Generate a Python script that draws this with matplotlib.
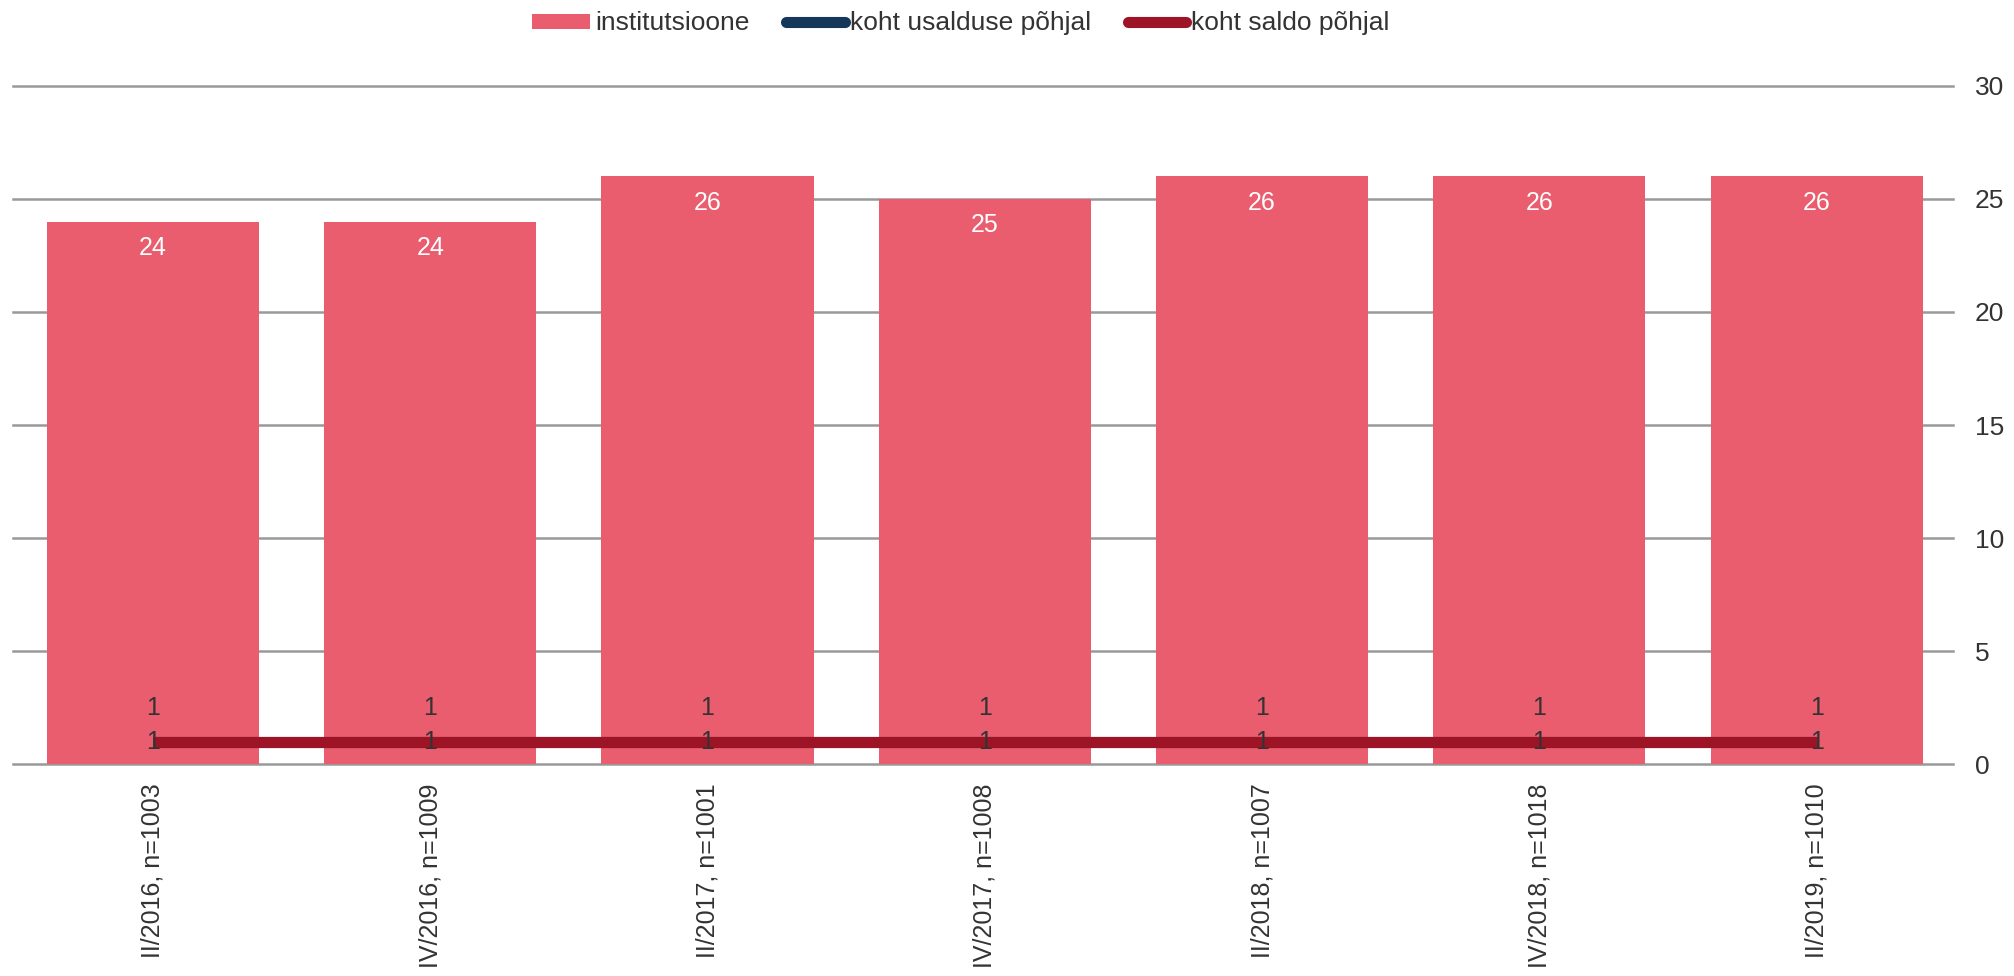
import matplotlib
matplotlib.use("Agg")
import matplotlib.pyplot as plt
from matplotlib.lines import Line2D
from matplotlib.patches import Patch
import numpy as np

plt.rcParams['font.family'] = ['Liberation Sans', 'DejaVu Sans']

categories = ["II/2016, n=1003", "IV/2016, n=1009", "II/2017, n=1001", "IV/2017, n=1008",
              "II/2018, n=1007", "IV/2018, n=1018", "II/2019, n=1010"]
institutsioone = [24, 24, 26, 25, 26, 26, 26]
koht_usaldus = [1, 1, 1, 1, 1, 1, 1]
koht_saldo = [1, 1, 1, 1, 1, 1, 1]
yticks = [0, 5, 10, 15, 20, 25, 30]

bar_color = "#E95D6E"
blue = "#14375A"
red = "#9E1427"
txt = "#333333"

fig = plt.figure(figsize=(20.14, 9.76), dpi=100)
ax = fig.add_axes([0.0064, 0.217, 0.9631, 0.695])

x = np.arange(len(categories))
ax.bar(x, institutsioone, width=0.765, color=bar_color, zorder=2)
for xi, v in zip(x, institutsioone):
    ax.annotate(str(v), (xi, v), xytext=(0, -19), textcoords="offset points",
                ha="center", va="center", color="white", fontsize=18, zorder=5)

ax.plot(x, koht_usaldus, color=blue, lw=8, solid_capstyle="butt", zorder=3)
ax.plot(x, koht_saldo, color=red, lw=8, solid_capstyle="butt", zorder=4)
for xi, v in zip(x, koht_usaldus):
    ax.annotate(str(v), (xi, v), xytext=(0, 24), textcoords="offset points",
                ha="center", va="center", color=txt, fontsize=18, zorder=6)
for xi, v in zip(x, koht_saldo):
    ax.annotate(str(v), (xi, v), xytext=(0, 0), textcoords="offset points",
                ha="center", va="center", color=txt, fontsize=18, zorder=6)

ax.set_xlim(-0.505, 6.49)
ax.set_ylim(0, 30)
ax.set_yticks(yticks)
ax.yaxis.tick_right()
ax.tick_params(axis="y", length=0, pad=16, labelsize=19, labelcolor=txt)
ax.set_xticks(x)
ax.set_xticklabels(categories, rotation=90, fontsize=18, color=txt)
ax.tick_params(axis="x", length=0, pad=14)
ax.grid(axis="y", color="#999999", lw=1.8, zorder=1)
for gl in ax.get_ygridlines():
    gl.set_clip_on(False)
ax.set_axisbelow(True)
for s in ax.spines.values():
    s.set_visible(False)

handles = [Patch(facecolor=bar_color, edgecolor="none"),
           Line2D([0], [0], color=blue, lw=8, solid_capstyle="round"),
           Line2D([0], [0], color=red, lw=8, solid_capstyle="round")]
labels = ["institutsioone", "koht usalduse põhjal", "koht saldo põhjal"]
fig.legend(handles, labels, loc="center", bbox_to_anchor=(0.477, 0.976), ncol=3,
           frameon=False, fontsize=19, handlelength=2.2, handleheight=0.5,
           handletextpad=0.2, columnspacing=1.4, labelcolor=txt)

fig.savefig("out.png", dpi=100)
